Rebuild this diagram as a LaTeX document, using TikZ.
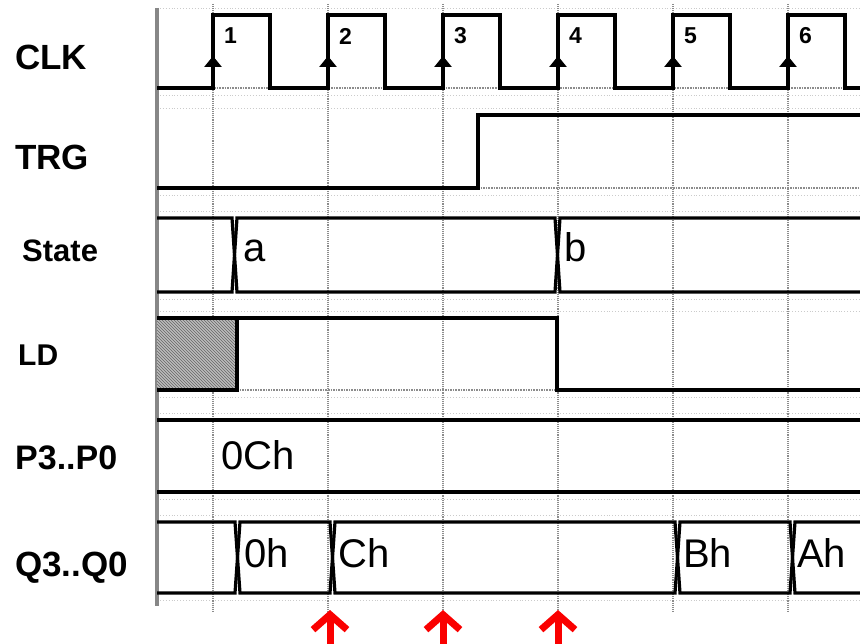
\documentclass[tikz,border=0pt]{standalone}
\usepackage{fontspec}
\setmainfont{Liberation Sans}
\usetikzlibrary{arrows.meta, patterns}
\definecolor{gridgr}{RGB}{140,140,140}
\definecolor{axisgr}{RGB}{135,135,135}
\definecolor{hatchgr}{RGB}{160,160,160}
\definecolor{markred}{RGB}{250,0,0}

\begin{document}
\begin{tikzpicture}[
    x=1pt, y=-1pt,
    sig/.style = {line width=3.2pt, line join=miter},
    vgrid/.style = {gridgr, densely dotted, line width=1.1pt},
    hgrid/.style = {gridgr!45, dotted, line width=0.9pt},
    lowdot/.style = {gridgr, densely dotted, line width=1.6pt},
    lbl/.style = {anchor=west, inner sep=0pt,
                  font=\fontsize{35}{40}\selectfont\bfseries},
    val/.style = {anchor=base west, inner sep=0pt,
                  font=\fontsize{40}{46}\selectfont},
    num/.style = {anchor=west, inner sep=0pt,
                  font=\fontsize{23}{27}\selectfont\bfseries},
    edgearr/.style = {-{Triangle[length=11pt, width=17pt]}, line width=3.2pt},
    redarr/.style = {markred, line width=7pt,
                     -{Straight Barb[length=15pt, width=34pt, line width=7pt]}},
  ]
    \useasboundingbox (0,0) rectangle (860,644);

    % grid
    \foreach \y in {8,95,108,195,211,299,311,397,413,499,515,600}
      \draw[hgrid] (157,\y) -- (860,\y);
    \foreach \x in {213,328,...,788}
      \draw[vgrid] (\x,4) -- (\x,612);
    \draw[lowdot] (157,88) -- (860,88);
    \draw[lowdot] (478,188) -- (860,188);
    \draw[lowdot] (237,390) -- (557,390);
    \draw[axisgr, line width=3.2pt] (157,8) -- (157,606);

    % signal names
    \node[lbl] (clk) at (15,57) {CLK};
    \node[lbl] (trg) at (15,157) {TRG};
    \node[lbl, font=\fontsize{31}{36}\selectfont\bfseries] (state) at (22,251) {State};
    \node[lbl, font=\fontsize{30}{35}\selectfont\bfseries] (ld) at (18,355) {LD};
    \node[lbl, font=\fontsize{34}{40}\selectfont\bfseries] (pin) at (15,458) {P3..P0};
    \node[lbl] (qout) at (15,568) {Q3..Q0};

    % CLK
    \draw[sig] (157,88) foreach \x in {213,328,...,788}
      { -- (\x,88) -- (\x,15) -- (\x+57,15) -- (\x+57,88) } -- (860,88);
    \foreach \x [count=\i] in {213,328,...,788} {
      \draw[edgearr] (\x,88) -- (\x,56);
      \node[num] (n\i) at (\x+11,36) {\i};
    }

    % TRG
    \draw[sig] (157,188) -- (478,188) -- (478,115) -- (860,115);

    % State
    \draw[sig] (157,218) -- (232,218) -- (237,292) -- (555,292) -- (560,218) -- (860,218);
    \draw[sig] (157,292) -- (232,292) -- (237,218) -- (555,218) -- (560,292) -- (860,292);
    \node[val] (sta) at (243,262) {a};
    \node[val] (stb) at (564,262) {b};

    % LD
    \fill[hatchgr!70] (157,318) rectangle (237,390);
    \fill[pattern=north west lines, pattern color=black!60] (157,318) rectangle (237,390);
    \draw[sig] (157,390) -- (237,390) -- (237,318) -- (157,318);
    \draw[sig] (237,318) -- (557,318) -- (557,390) -- (860,390);

    % P3..P0
    \draw[sig] (157,420) -- (860,420);
    \draw[sig] (157,492) -- (860,492);
    \node[val] (p0c) at (221,469) {0Ch};

    % Q3..Q0
    \draw[sig] (157,522) -- (235,522) -- (240,593) -- (330,593) -- (335,522)
      -- (675,522) -- (680,593) -- (790,593) -- (795,522) -- (860,522);
    \draw[sig] (157,593) -- (235,593) -- (240,522) -- (330,522) -- (335,593)
      -- (675,593) -- (680,522) -- (790,522) -- (795,593) -- (860,593);
    \node[val] (q0h) at (244,567) {0h};
    \node[val] (qch) at (338,567) {Ch};
    \node[val] (qbh) at (683,567) {Bh};
    \node[val] (qah) at (797,567) {Ah};

    % sampling points
    \foreach \x [count=\i] in {330,443,558} {
      \coordinate (rb\i) at (\x,652);
      \coordinate (rt\i) at (\x,610);
      \draw[redarr] (rb\i) -- (rt\i);
    }
  \end{tikzpicture}
\end{document}
